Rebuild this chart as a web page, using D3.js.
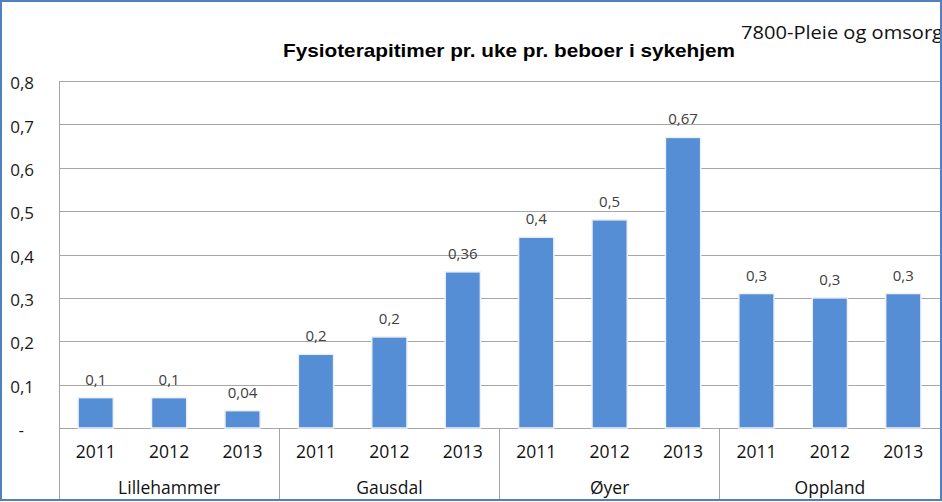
<!DOCTYPE html>
<html>
<head>
<meta charset="utf-8">
<script src="https://cdn.jsdelivr.net/npm/d3@7"></script>
<style>
  html, body { margin: 0; padding: 0; background: #fff; }
  svg { display: block; }
</style>
</head>
<body>
<svg id="chart" width="942" height="502"></svg>
<script>
// ---- data ----
const groups = ["Lillehammer", "Gausdal", "Øyer", "Oppland"];
const years = ["2011", "2012", "2013"];
const values = [0.07, 0.07, 0.04, 0.17, 0.21, 0.36, 0.44, 0.48, 0.67, 0.31, 0.30, 0.31];
const valueLabels = ["0,1", "0,1", "0,04", "0,2", "0,2", "0,36", "0,4", "0,5", "0,67", "0,3", "0,3", "0,3"];
const yTicks = [0, 0.1, 0.2, 0.3, 0.4, 0.5, 0.6, 0.7, 0.8];
const yTickLabels = ["-", "0,1", "0,2", "0,3", "0,4", "0,5", "0,6", "0,7", "0,8"];
const title = "Fysioterapitimer pr. uke pr. beboer i sykehjem";
const subtitle = "7800-Pleie og omsorg";

(function () {
// ---- layout ----
const W = 942, H = 502;
const pLeft = 59, pRight = 940, pTop = 81, pBottom = 428, axisBottom = 500;
const svg = d3.select("#chart");
const font = "'Open Sans', 'Liberation Sans', sans-serif";

svg.append("rect").attr("x", 0).attr("y", 0).attr("width", W).attr("height", H).attr("fill", "#fff");

const rows = [];
groups.forEach((g, gi) => years.forEach((yr, yi) => {
  const i = gi * years.length + yi;
  rows.push({ key: g + "|" + yr, group: g, year: yr, value: values[i], label: valueLabels[i] });
}));

const x = d3.scaleBand().domain(rows.map(d => d.key)).range([pLeft, pRight]).paddingInner(0.52).paddingOuter(0.26);
const xg = d3.scaleBand().domain(groups).range([pLeft, pRight]);
const y = d3.scaleLinear().domain([0, 0.8]).range([pBottom, pTop]);

// y axis + gridlines
const yAxis = d3.axisLeft(y).tickValues(yTicks)
  .tickFormat((d, i) => yTickLabels[i])
  .tickSizeInner(-(pRight - pLeft)).tickSizeOuter(0).tickPadding(25);
const ya = svg.append("g").attr("transform", `translate(${pLeft},0)`).call(yAxis);
ya.select(".domain").remove();
ya.selectAll(".tick line").attr("stroke", "#a6a6a6").attr("stroke-width", 1)
  .attr("shape-rendering", "crispEdges");
ya.selectAll(".tick text").attr("font-family", font).attr("font-size", 17)
  .attr("fill", "#1a1a1a").attr("dy", "0.45em");
ya.selectAll(".tick").filter(d => d === 0).select("text").attr("dx", -10);

// left vertical axis line
svg.append("line").attr("x1", pLeft).attr("x2", pLeft).attr("y1", pTop).attr("y2", axisBottom)
  .attr("stroke", "#a6a6a6").attr("shape-rendering", "crispEdges");

// bars
svg.append("g").selectAll("rect.bar").data(rows).join("rect")
  .attr("class", "bar")
  .attr("x", d => x(d.key))
  .attr("y", d => y(d.value))
  .attr("width", x.bandwidth())
  .attr("height", d => y(0) - y(d.value))
  .attr("fill", "#558ed5")
  .attr("stroke", "#eef2f8").attr("stroke-width", 1.5);

// value labels
svg.append("g").selectAll("text").data(rows).join("text")
  .attr("x", d => x(d.key) + x.bandwidth() / 2)
  .attr("y", d => y(d.value) - 13)
  .attr("text-anchor", "middle")
  .attr("font-family", font).attr("font-size", 15).attr("fill", "#404040")
  .text(d => d.label);

// category axis: year labels
svg.append("g").selectAll("text").data(rows).join("text")
  .attr("x", d => x(d.key) + x.bandwidth() / 2)
  .attr("y", 458)
  .attr("text-anchor", "middle")
  .attr("font-family", font).attr("font-size", 17.5).attr("fill", "#111")
  .text(d => d.year);

// group labels
svg.append("g").selectAll("text").data(groups).join("text")
  .attr("x", d => xg(d) + xg.bandwidth() / 2)
  .attr("y", 494)
  .attr("text-anchor", "middle")
  .attr("font-family", font).attr("font-size", 17.5).attr("fill", "#111")
  .text(d => d);

// group separators
svg.append("g").selectAll("line").data(groups.slice(1)).join("line")
  .attr("x1", d => xg(d)).attr("x2", d => xg(d))
  .attr("y1", pBottom).attr("y2", axisBottom)
  .attr("stroke", "#a6a6a6").attr("shape-rendering", "crispEdges");

// title
svg.append("text").attr("x", 283).attr("y", 57)
  .attr("font-family", "'Liberation Sans', Arial, sans-serif").attr("font-weight", "bold")
  .attr("font-size", 18.5).attr("fill", "#000")
  .attr("textLength", 452).attr("lengthAdjust", "spacingAndGlyphs")
  .text(title);

svg.append("text").attr("x", 741).attr("y", 39)
  .attr("font-family", font).attr("font-size", 17.5).attr("fill", "#111")
  .attr("textLength", 202).attr("lengthAdjust", "spacingAndGlyphs")
  .text(subtitle);

// outer blue border
svg.append("rect").attr("x", 1).attr("y", 1).attr("width", 940).attr("height", 499)
  .attr("fill", "none").attr("stroke", "#4f81bd").attr("stroke-width", 2);
})();
</script>
</body>
</html>
